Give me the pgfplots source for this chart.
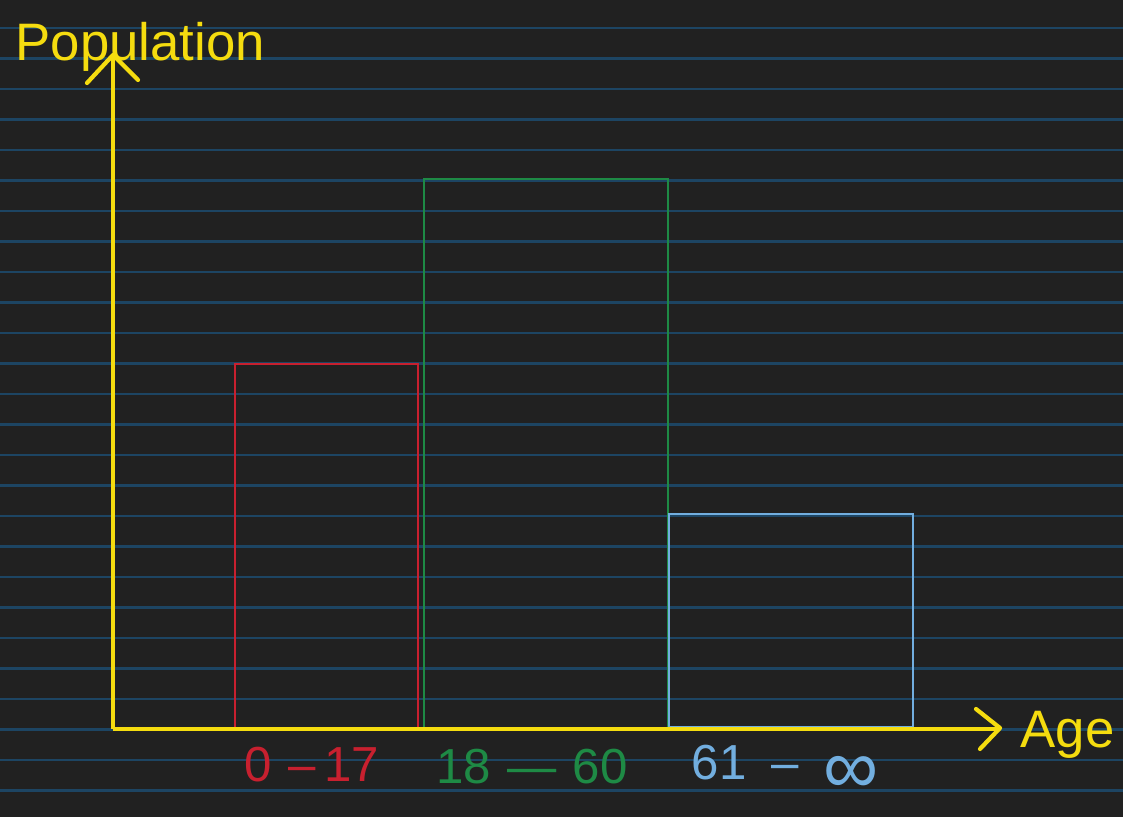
\documentclass[border=0pt]{standalone}
\usepackage{fontspec}
\setmainfont{Liberation Sans}
\usepackage{pgfplots}
\pgfplotsset{compat=1.18}
\definecolor{bg}{HTML}{212121}
\definecolor{rule}{HTML}{1D4563}
\definecolor{ax}{HTML}{F5DC0F}
\definecolor{cred}{HTML}{C8202F}
\definecolor{cgreen}{HTML}{1E8A45}
\definecolor{cblue}{HTML}{72AEDF}
\begin{document}
\begin{tikzpicture}
\begin{axis}[
  scale only axis, width=11.23cm, height=8.17cm,
  xmin=0, xmax=1123, ymin=0, ymax=817, enlargelimits=false,
  axis background/.style={fill=bg},
  axis line style={draw=none},
  xtick=\empty,
  ytick={26.5,57,...,790},
  yticklabels={},
  yticklabel style={inner sep=0pt},
  major tick length=0pt,
  ymajorgrids, grid style={rule, line width=0.8pt},
  clip=false,
]
\coordinate (bl) at (axis cs:0,0);
\coordinate (tr) at (axis cs:1123,817);
% bars (x in px, heights relative to the image bottom)
\addplot[cred, line width=0.6pt] coordinates {(235,89) (235,453) (418,453) (418,89)};
\addplot[cgreen, line width=0.6pt] coordinates {(424,89) (424,638) (668,638) (668,89)};
\addplot[cblue, line width=0.6pt] coordinates {(669,90) (669,303) (913,303) (913,90) (669,90)};
% axes
\addplot[ax, line width=1.2pt] coordinates {(113,88) (113,762)};
\addplot[ax, line width=1.2pt, line cap=round, line join=round] coordinates {(87,734) (113,762) (138,737)};
\addplot[ax, line width=1.2pt] coordinates {(113,88) (1000,88)};
\addplot[ax, line width=1.2pt, line cap=round, line join=round] coordinates {(976,108) (1000,89) (980,68)};
% texts
\node[anchor=west, inner sep=0pt, text=ax, font=\fontsize{15}{18}\selectfont] at (axis cs:15,770) {Population};
\node[anchor=west, inner sep=0pt, text=ax, font=\fontsize{15}{18}\selectfont] at (axis cs:1020,82) {Age};
\node[text=cred, font=\fontsize{14}{16}\selectfont] at (axis cs:312,52) {0\,\,--\,17};
\node[text=cgreen, font=\fontsize{14}{16}\selectfont] at (axis cs:532,50) {18\,\,---\,\,60};
\node[text=cblue, font=\fontsize{14}{16}\selectfont] at (axis cs:785,48) {61\,\,\,--\,\,\,\raisebox{-4pt}{\fontsize{22}{22}\selectfont ∞}};
\end{axis}
\pgfresetboundingbox
\path (bl) rectangle (tr);
\end{tikzpicture}
\end{document}
